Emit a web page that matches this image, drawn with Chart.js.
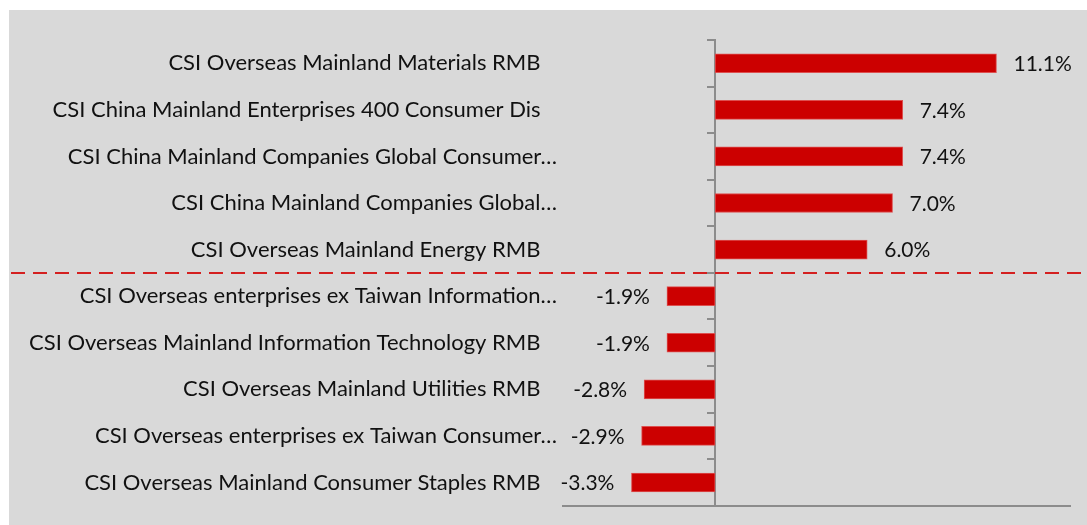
<!DOCTYPE html>
<html>
<head>
<meta charset="utf-8">
<script src="https://cdn.jsdelivr.net/npm/chart.js@4/dist/chart.umd.min.js"></script>
<style>
  html, body { margin: 0; padding: 0; background: #ffffff; }
  #wrap { position: absolute; left: 9px; top: 10px; width: 1078px; height: 515px; background: #d9d9d9; }
  canvas { display: block; }
</style>
</head>
<body>
<div id="wrap"><canvas id="c" width="1078" height="515"></canvas></div>
<script>
const categories = [
  "CSI Overseas Mainland Materials RMB",
  "CSI China Mainland Enterprises 400 Consumer Dis",
  "CSI China Mainland Companies Global Consumer…",
  "CSI China Mainland Companies Global…",
  "CSI Overseas Mainland Energy RMB",
  "CSI Overseas enterprises ex Taiwan Information…",
  "CSI Overseas Mainland Information Technology RMB",
  "CSI Overseas Mainland Utilities RMB",
  "CSI Overseas enterprises ex Taiwan Consumer…",
  "CSI Overseas Mainland Consumer Staples RMB"
];
const returnsPct = [11.1, 7.4, 7.4, 7.0, 6.0, -1.9, -1.9, -2.8, -2.9, -3.3];
const axisMin = -6;
const axisMax = 14;
const dividerAfterIndex = 4;

const FAMILY = "Lato, 'Liberation Sans', sans-serif";
const LABEL_FONT = { family: FAMILY, size: 22 };
const VALUE_FONT_SIZE = 21;
const AXIS_GREY = '#8c8c8c';

const valueLabels = {
  id: 'valueLabels',
  afterDatasetsDraw(chart) {
    const ctx = chart.ctx;
    const meta = chart.getDatasetMeta(0);
    ctx.save();
    ctx.font = `${VALUE_FONT_SIZE}px ${FAMILY}`;
    ctx.fillStyle = '#111111';
    ctx.textBaseline = 'middle';
    meta.data.forEach((bar, i) => {
      const v = returnsPct[i];
      const txt = v.toFixed(1) + '%';
      if (v >= 0) {
        ctx.textAlign = 'left';
        ctx.fillText(txt, bar.x + 17, bar.y + 1);
      } else {
        ctx.textAlign = 'right';
        ctx.fillText(txt, bar.x - 17, bar.y + 1);
      }
    });
    ctx.restore();
  }
};

const divider = {
  id: 'divider',
  afterDraw(chart) {
    const y = chart.scales.y;
    const py = (y.getPixelForValue(dividerAfterIndex) + y.getPixelForValue(dividerAfterIndex + 1)) / 2;
    const ctx = chart.ctx;
    ctx.save();
    ctx.strokeStyle = '#d42020';
    ctx.lineWidth = 2;
    ctx.setLineDash([14, 8]);
    ctx.beginPath();
    ctx.moveTo(2, py);
    ctx.lineTo(chart.width, py);
    ctx.stroke();
    ctx.restore();
  }
};

new Chart(document.getElementById('c'), {
  type: 'bar',
  data: {
    labels: categories,
    datasets: [{
      data: returnsPct,
      backgroundColor: '#cc0000',
      borderColor: '#dd5050',
      borderWidth: 1,
      borderSkipped: false,
      barThickness: 19,
      yAxisID: 'y',
      xAxisID: 'x'
    }]
  },
  options: {
    indexAxis: 'y',
    responsive: false,
    animation: false,
    devicePixelRatio: 1,
    layout: { padding: { left: 0, top: 30, right: 17, bottom: 19 } },
    plugins: { legend: { display: false }, tooltip: { enabled: false } },
    scales: {
      x: {
        type: 'linear',
        min: axisMin,
        max: axisMax,
        position: 'bottom',
        grid: { display: false, drawTicks: false },
        ticks: { display: false },
        border: { display: true, color: AXIS_GREY, width: 2 }
      },
      y: {
        type: 'category',
        position: 'left',
        offset: true,
        grid: { display: false, drawTicks: false },
        border: { display: false },
        ticks: {
          font: LABEL_FONT,
          color: '#111111',
          padding: 6,
          autoSkip: false,
          callback: function (value, index) {
            const s = categories[index];
            return s.endsWith('…') ? s : s + '\u2002\u2005';
          }
        },
        afterFit: (s) => { s.width = 554; }
      },
      y2: {
        type: 'category',
        position: { x: 0 },
        offset: true,
        grid: { display: true, drawOnChartArea: false, drawTicks: true, tickLength: 7, color: AXIS_GREY, lineWidth: 2, offset: true },
        border: { display: true, color: AXIS_GREY, width: 2 },
        ticks: { display: false }
      }
    }
  },
  plugins: [valueLabels, divider]
});
</script>
</body>
</html>
